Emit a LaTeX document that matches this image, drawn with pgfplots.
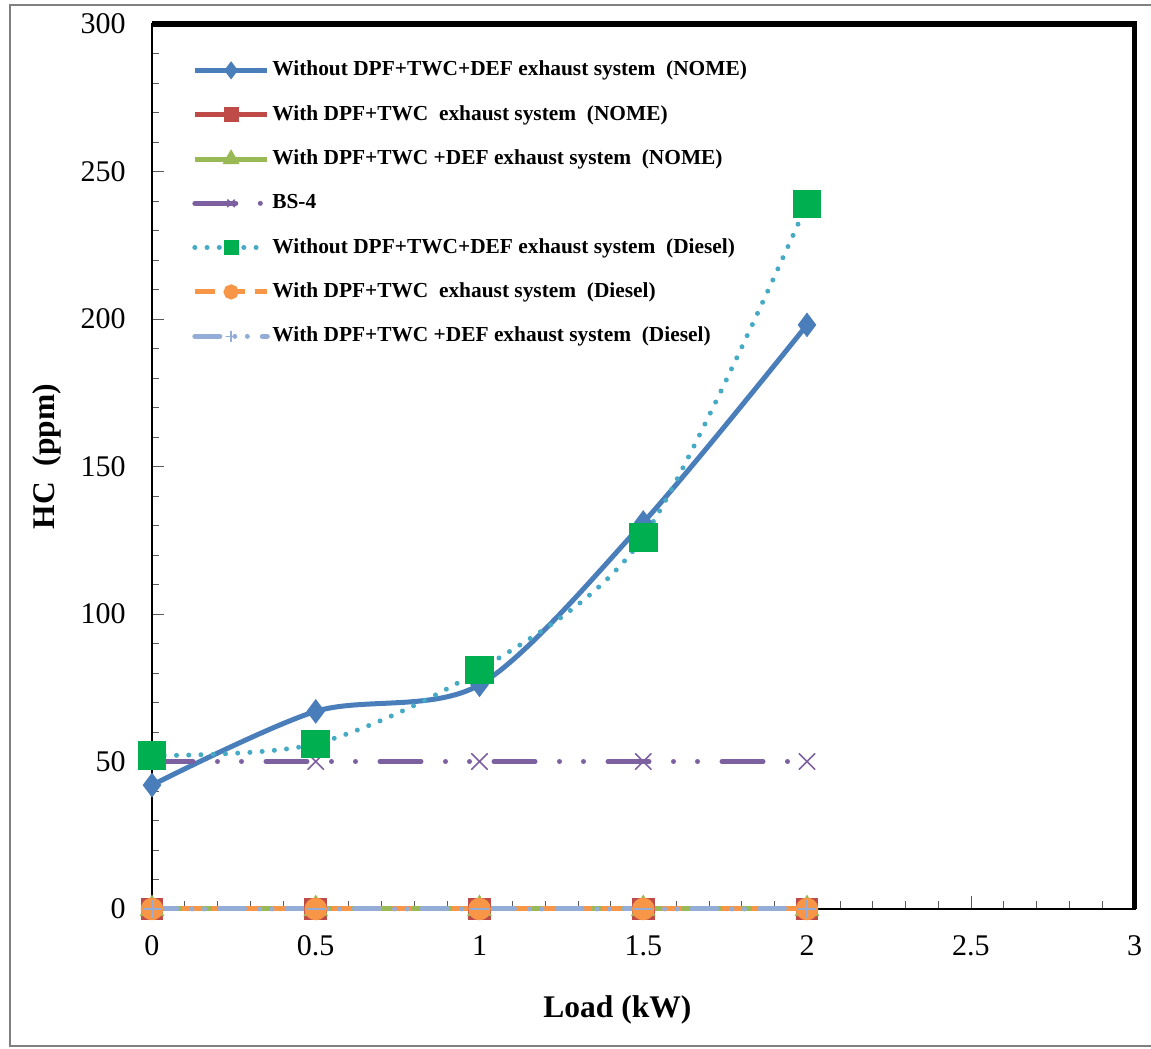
\documentclass[border=0pt]{standalone}
\usepackage{pgfplots}
\pgfplotsset{compat=1.18}
\usepackage{fontspec}
\setmainfont{Liberation Serif}

\definecolor{cBlue}{HTML}{4A7EBB}
\definecolor{cRed}{HTML}{BE4B48}
\definecolor{cGreen}{HTML}{98B954}
\definecolor{cPurple}{HTML}{7D60A0}
\definecolor{cTeal}{HTML}{46AAC5}
\definecolor{cSq}{HTML}{00B050}
\definecolor{cOrange}{HTML}{F79646}
\definecolor{cLight}{HTML}{93ADD6}

\begin{document}
\begin{tikzpicture}
\begin{axis}[
  width=393pt, height=354pt, scale only axis,
  xmin=0, xmax=3, ymin=0, ymax=300,
  xtick={0,0.5,...,3}, ytick={0,50,...,300},
  minor x tick num=4, minor y tick num=4,
  xtick pos=left, ytick pos=left,
  tick align=inside, tick style={gray!70!black},
  major tick length=5pt, minor tick length=3pt,
  axis line style={black, line width=1pt},
  /pgf/number format/assume math mode=true,
  tick label style={font=\fontsize{12}{14}\selectfont},
  xticklabel style={yshift=-7pt},
  yticklabel style={xshift=-7pt},
  xlabel={\textbf{Load (kW)}}, ylabel={\textbf{HC\ \ (ppm)}},
  label style={font=\fontsize{12.6}{15}\selectfont},
  xlabel style={at={(axis description cs:0.4736,-0.114)}, anchor=center},
  ylabel style={at={(axis description cs:-0.107,0.511)}, anchor=center},
  legend cell align=left,
  legend style={draw=none, fill=none, font=\bfseries\fontsize{8.55}{10.5}\selectfont,
    at={(axis description cs:0.0329,0.970)}, anchor=north west,
    row sep=6.35pt, nodes={inner xsep=1pt}},
  legend image code/.code={
    \draw[mark repeat=2,mark phase=2,mark size=2pt] plot coordinates {(0pt,0pt)(14.5pt,0pt)(29pt,0pt)};},
  clip=false,
]
% NOME, no after-treatment
\addplot[cBlue, line width=2pt, smooth, mark=diamond*, mark size=3.3pt,
  mark options={solid, fill=cBlue}]
  coordinates {(0,42)(0.5,67)(1,76)(1.5,131)(2,198)};
\addplot[cRed, line width=2pt, mark=square*, mark size=3.5pt, mark options={solid, fill=cRed}]
  coordinates {(0,0)(0.5,0)(1,0)(1.5,0)(2,0)};
\addplot[cGreen, line width=2pt, mark=triangle*, mark size=3.8pt, mark options={solid, fill=cGreen}]
  coordinates {(0,0)(0.5,0)(1,0)(1.5,0)(2,0)};
% BS-4 limit
\addplot[cPurple, line width=2pt, line cap=round,
  dash pattern=on 16.4pt off 9.8pt on 0pt off 9.6pt on 0pt off 9.8pt,
  mark=x, mark size=4.5pt, mark options={solid, line width=0.6pt}]
  coordinates {(0,50)(0.5,50)(1,50)(1.5,50)(2,50)};
% Diesel, no after-treatment
\addplot[cTeal, line width=2pt, line cap=round, dash pattern=on 0pt off 4.9pt, smooth,
  mark=square*, mark size=4.7pt, mark options={solid, fill=cSq, draw=cSq}]
  coordinates {(0,52)(0.5,56)(1,81)(1.5,126)(2,239)};
\addplot[cOrange, line width=2pt, dash pattern=on 8pt off 4pt,
  mark=*, mark size=3.5pt, mark options={solid, fill=cOrange}]
  coordinates {(0,0)(0.5,0)(1,0)(1.5,0)(2,0)};
\addplot[cLight, line width=2pt, line cap=round,
  dash pattern=on 10pt off 6pt on 0pt off 5pt on 0pt off 6pt,
  mark=+, mark size=3.5pt, mark options={solid, line width=0.6pt}]
  coordinates {(0,0)(0.5,0)(1,0)(1.5,0)(2,0)};
\legend{Without DPF+TWC+DEF exhaust system\ \ (NOME),
  With DPF+TWC\ \ exhaust system\ \ (NOME),
  With DPF+TWC +DEF exhaust system\ \ (NOME),
  BS-4,
  Without DPF+TWC+DEF exhaust system\ \ (Diesel),
  With DPF+TWC\ \ exhaust system\ \ (Diesel),
  With DPF+TWC +DEF exhaust system\ \ (Diesel)}
\draw[black, line width=2.2pt] (rel axis cs:0,1) -- (rel axis cs:1,1) -- (rel axis cs:1,0);
\end{axis}
\pgfresetboundingbox
\useasboundingbox (-60.8pt,-56pt) rectangle (399.6pt,363.6pt);
\draw[gray, line width=1pt] (400pt,361.6pt) -- (-56.8pt,361.6pt) -- (-56.8pt,-54.8pt) -- (400pt,-54.8pt);
\end{tikzpicture}
\end{document}
